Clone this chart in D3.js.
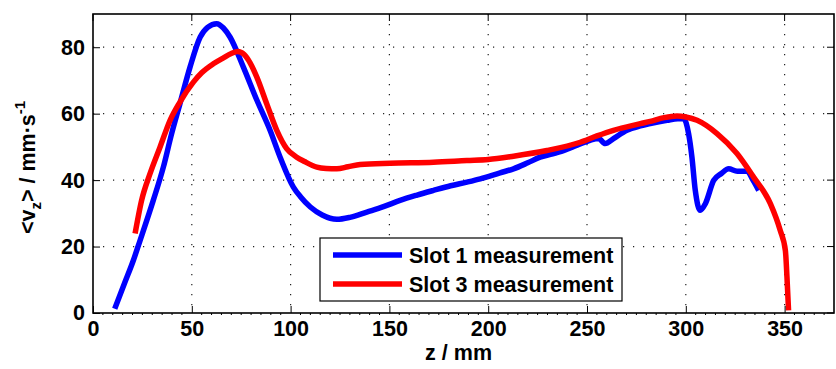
<!DOCTYPE html>
<html>
<head>
<meta charset="utf-8">
<script src="https://cdn.jsdelivr.net/npm/d3@7"></script>
<style>
  body { margin: 0; background: #fff; }
  svg text { font-family: "Liberation Sans", Arial, Helvetica, sans-serif; font-weight: bold; fill: #000; }
</style>
</head>
<body>
<div id="chart"></div>
<script>
// Slot 1 (blue) : z in mm, <v_z> in mm/s
const slot1Z = [11, 16, 20.4, 23.8, 30.5, 35.6, 39.8, 44, 49.1, 54.2, 58, 62.6, 66, 69.4, 76.1, 82.9, 89.6, 94.7, 101.4, 105, 110, 116, 123.4, 130, 138.6, 147, 155.4, 164, 172.3, 181, 189.2, 196, 206, 212.8, 220, 226.3, 232, 238.1, 245, 251.6, 255.9, 259.2, 263.4, 270.2, 277, 282, 290.5, 296, 298.9, 301.4, 303.1, 304.8, 307.3, 309.9, 314.1, 318, 321.7, 326, 331, 334, 336.9];
const slot1V = [1.3, 9, 15.8, 21.8, 33.9, 43.9, 54, 63, 74, 83, 86, 87.1, 85.8, 83, 74, 64.1, 55, 46.9, 37.9, 35, 31.9, 29.5, 28.2, 28.8, 30.4, 32, 33.9, 35.5, 36.9, 38.3, 39.4, 40.4, 42.2, 43.4, 45.2, 46.9, 47.8, 48.9, 50.5, 52, 52.5, 51, 52.5, 55, 56.3, 57, 58, 58.5, 58.5, 54, 46.9, 36.9, 30.9, 32.9, 39.9, 42, 43.4, 42.7, 42.7, 40, 36.9];

// Slot 3 (red)
const slot3Z = [21.3, 24.6, 28.9, 33.9, 39, 44, 50.8, 55, 60.9, 66, 70, 73.2, 76.5, 79.5, 82.9, 87.9, 93, 98, 103.1, 107, 113.3, 118, 123.4, 129, 135.2, 150.4, 172.3, 189.2, 200, 212.8, 229.7, 246.6, 255, 263.4, 277, 282, 289, 295.5, 300, 305.7, 315.8, 325.9, 334.3, 342.8, 347.8, 350.4, 351.2, 352];
const slot3V = [23.9, 33.9, 42, 49.9, 58, 63.5, 69.5, 72.3, 75, 76.8, 78.1, 78.7, 77.8, 75.3, 71, 63, 55, 49.5, 46.9, 45.6, 43.9, 43.5, 43.4, 44, 44.7, 45.1, 45.4, 45.9, 46.2, 47.2, 48.9, 51.4, 53.3, 55, 57, 57.7, 58.8, 59.3, 59, 58, 54, 48, 40.9, 32.9, 24.8, 18.8, 10.8, 0.8];

const xTicks = [0, 50, 100, 150, 200, 250, 300, 350];
const yTicks = [0, 20, 40, 60, 80];
const seriesNames = ["Slot 1 measurement", "Slot 3 measurement"];
const seriesColors = ["#0000ff", "#ff0000"];

const W = 836, H = 369;
const margin = { top: 14, right: 2, bottom: 56, left: 93 };
const chartWidth = W - margin.left - margin.right;
const chartHeight = H - margin.top - margin.bottom;
const fontSize = '21.5px';

const svg = d3.select('#chart').append('svg')
  .attr('width', W)
  .attr('height', H);

const g = svg.append('g')
  .attr('transform', `translate(${margin.left},${margin.top})`);

const x = d3.scaleLinear().domain([0, 375]).range([0, chartWidth]);
const y = d3.scaleLinear().domain([0, 90]).range([chartHeight, 0]);

// dotted grid
const grid = g.append('g').classed('grid', true);
xTicks.filter(d => d !== 0).forEach(d => {
  grid.append('line')
    .attr('x1', x(d)).attr('x2', x(d))
    .attr('y1', 0).attr('y2', chartHeight)
    .style('stroke', '#222').style('stroke-width', 1.2)
    .style('stroke-dasharray', '1.2,8.8');
});
yTicks.filter(d => d !== 0).forEach(d => {
  grid.append('line')
    .attr('x1', 0).attr('x2', chartWidth)
    .attr('y1', y(d)).attr('y2', y(d))
    .style('stroke', '#222').style('stroke-width', 1.2)
    .style('stroke-dasharray', '1.2,8.8');
});

// series
const lineFn = d3.line()
  .x(d => x(d[0]))
  .y(d => y(d[1]))
  .curve(d3.curveMonotoneX);

const series = [
  d3.zip(slot1Z, slot1V),
  d3.zip(slot3Z, slot3V)
];

series.forEach((data, i) => {
  g.append('path')
    .datum(data)
    .attr('d', lineFn)
    .style('fill', 'none')
    .style('stroke', seriesColors[i])
    .style('stroke-width', 5.5)
    .style('stroke-linejoin', 'round')
    .style('stroke-linecap', 'butt');
});

// axes: box with inward ticks
const axisX = d3.axisBottom(x).tickValues(xTicks).tickSizeInner(-7).tickSizeOuter(0).tickPadding(8);
const axisY = d3.axisLeft(y).tickValues(yTicks).tickSizeInner(-7).tickSizeOuter(0).tickPadding(8);

const gx = g.append('g')
  .attr('transform', `translate(0,${chartHeight})`)
  .call(axisX);
const gy = g.append('g').call(axisY);

[gx, gy].forEach(a => {
  a.select('.domain').remove();
  a.selectAll('line').style('stroke', '#000').style('stroke-width', 1);
  a.selectAll('text').style('font-size', fontSize);
});

// top and right ticks
xTicks.forEach(d => {
  g.append('line').attr('x1', x(d)).attr('x2', x(d)).attr('y1', 0).attr('y2', 7)
    .style('stroke', '#000');
});
yTicks.forEach(d => {
  g.append('line').attr('x1', chartWidth).attr('x2', chartWidth - 7).attr('y1', y(d)).attr('y2', y(d))
    .style('stroke', '#000');
});

// small minor ticks along the bottom
d3.range(5, 375, 5).filter(d => d % 50 !== 0).forEach(d => {
  g.append('line').attr('x1', x(d)).attr('x2', x(d)).attr('y1', chartHeight).attr('y2', chartHeight + 2)
    .style('stroke', '#000');
});

g.append('rect')
  .attr('width', chartWidth).attr('height', chartHeight)
  .style('fill', 'none').style('stroke', '#000').style('stroke-width', 1.6);

// axis labels
svg.append('text')
  .attr('x', margin.left + x(185))
  .attr('y', 360)
  .attr('text-anchor', 'middle')
  .style('font-size', fontSize)
  .text('z / mm');

const yl = svg.append('text')
  .attr('transform', `translate(35,${margin.top + chartHeight / 2 + 4}) rotate(-90)`)
  .attr('text-anchor', 'middle')
  .style('font-size', fontSize);
yl.append('tspan').text('<v');
yl.append('tspan').attr('dy', 6).style('font-size', '15px').text('z');
yl.append('tspan').attr('dy', -6).text('> / mm·s');
yl.append('tspan').attr('dy', -10).style('font-size', '15px').text('-1');

// legend
const legend = svg.append('g').attr('transform', 'translate(320,238)');
legend.append('rect')
  .attr('width', 302).attr('height', 63)
  .style('fill', '#fff').style('stroke', '#000').style('stroke-width', 1.2);
seriesNames.forEach((name, i) => {
  const ly = 17 + i * 29;
  legend.append('line')
    .attr('x1', 13).attr('x2', 82).attr('y1', ly).attr('y2', ly)
    .style('stroke', seriesColors[i]).style('stroke-width', 5.5);
  legend.append('text')
    .attr('x', 89).attr('y', ly + 8)
    .style('font-size', fontSize)
    .text(name);
});
</script>
</body>
</html>
